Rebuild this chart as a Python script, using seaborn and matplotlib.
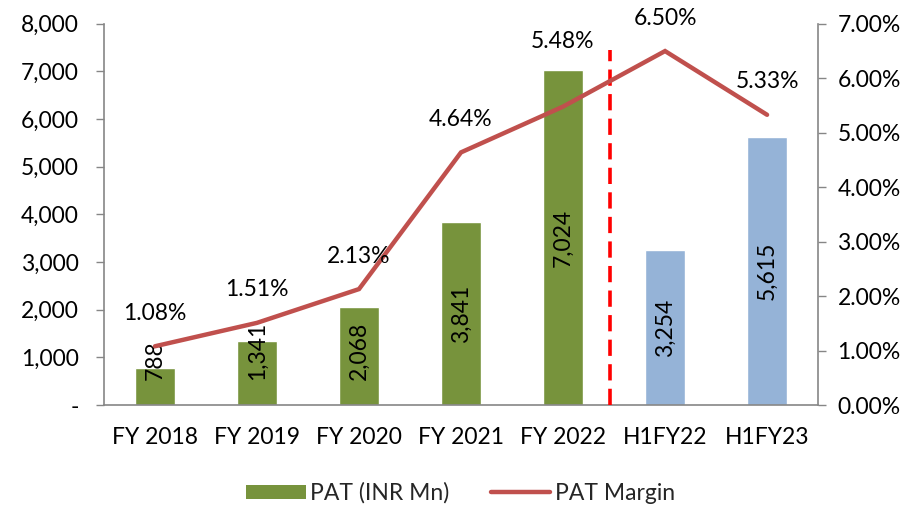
import numpy as np
import pandas as pd
import matplotlib
matplotlib.use("Agg")
import matplotlib.pyplot as plt
import seaborn as sns
from matplotlib.ticker import FuncFormatter, FixedLocator
from matplotlib.lines import Line2D
from matplotlib.patches import Patch

categories = ["FY 2018", "FY 2019", "FY 2020", "FY 2021", "FY 2022", "H1FY22", "H1FY23"]
pat_values = [788, 1341, 2068, 3841, 7024, 3254, 5615]
pat_labels = ["788", "1,341", "2,068", "3,841", "7,024", "3,254", "5,615"]
margin_values = [1.08, 1.51, 2.13, 4.64, 5.48, 6.50, 5.33]
margin_labels = ["1.08%", "1.51%", "2.13%", "4.64%", "5.48%", "6.50%", "5.33%"]
period_type = ["FY", "FY", "FY", "FY", "FY", "H1", "H1"]

GREEN = "#77933C"
BLUE = "#95B3D7"
RED_LINE = "#C0504D"
SPINE = "#868686"

sns.set_theme(style="white")
plt.rcParams["font.family"] = ["Lato", "DejaVu Sans"]
FS = 16.5

df = pd.DataFrame({"cat": categories, "pat": pat_values, "type": period_type})

fig = plt.figure(figsize=(9.12, 5.07), dpi=100)
ax = fig.add_axes([0.114, 0.201, 0.783, 0.752])

sns.barplot(data=df, x="cat", y="pat", hue="type", palette={"FY": GREEN, "H1": BLUE},
            dodge=False, width=0.4, ax=ax, legend=False, saturation=1)
ax.set_xlim(-0.5, len(categories) - 0.5)
ax.set_ylim(0, 8000)
ax.set_yticks(np.arange(0, 8001, 1000))
ax.yaxis.set_major_formatter(FuncFormatter(lambda v, p: "-" if v == 0 else f"{int(v):,}"))
ax.set_xlabel("")
ax.set_ylabel("")
ax.xaxis.set_major_locator(FixedLocator(np.arange(len(categories))))
ax.set_xticklabels(categories)
ax.tick_params(axis="x", which="major", length=0, pad=16, labelsize=FS, labelcolor="black")
ax.set_xticks(np.arange(-0.5, len(categories), 1.0), minor=True)
ax.tick_params(axis="x", which="minor", length=6, width=1, color=SPINE, direction="out")
ax.tick_params(axis="y", length=6, width=1, color=SPINE, direction="out", labelsize=FS,
               labelcolor="black", pad=12)
for s in ["top", "right"]:
    ax.spines[s].set_visible(False)
for s in ["left", "bottom"]:
    ax.spines[s].set_color(SPINE)
    ax.spines[s].set_linewidth(1.2)

ax2 = ax.twinx()
xpos = np.arange(len(categories))
sns.lineplot(x=xpos, y=margin_values, ax=ax2, color=RED_LINE, linewidth=3.2, legend=False,
             solid_capstyle="round", solid_joinstyle="miter")
ax2.set_ylim(0, 7)
ax2.set_xlim(-0.5, len(categories) - 0.5)
ax2.set_yticks(np.arange(0, 7.01, 1))
ax2.yaxis.set_major_formatter(FuncFormatter(lambda v, p: f"{v:.2f}%"))
ax2.tick_params(axis="y", length=6, width=1, color=SPINE, direction="out", labelsize=FS,
                labelcolor="black", pad=8)
for s in ["top", "left", "bottom"]:
    ax2.spines[s].set_visible(False)
ax2.spines["right"].set_color(SPINE)
ax2.spines["right"].set_linewidth(1.2)
ax2.set_ylabel("")

# red dashed separator
ax.plot([4.46, 4.46], [0, 7450], color="#FF0000", linewidth=2.6, linestyle=(0, (4.5, 2.3)), zorder=5)

# percent labels
offsets = [33, 33, 33, 33, 65, 33, 33]
for i, (v, lab) in enumerate(zip(margin_values, margin_labels)):
    ax2.annotate(lab, (i, v), xytext=(0, offsets[i]), textcoords="offset pixels",
                 ha="center", va="center", fontsize=FS, color="black")

# bar value labels (centered, but kept off the baseline when too tall)
fig.canvas.draw()
renderer = fig.canvas.get_renderer()
for i, (v, lab) in enumerate(zip(pat_values, pat_labels)):
    t = ax.text(i, v / 2, lab, rotation=90, ha="center", va="center", fontsize=FS, color="black", zorder=6)
    bb = t.get_window_extent(renderer)
    base_px = ax.transData.transform((i, 0))[1]
    if bb.y0 - base_px < 25:
        t.remove()
        ax.annotate(lab, (i, 0), xytext=(0, 25), textcoords="offset pixels", rotation=90,
                    ha="center", va="bottom", fontsize=FS, color="black", zorder=6)

handles = [Patch(facecolor=GREEN, edgecolor="none"),
           Line2D([0], [0], color=RED_LINE, linewidth=3.2)]
fig.legend(handles, ["PAT (INR Mn)", "PAT Margin"], loc="center", bbox_to_anchor=(0.505, 0.027),
           ncol=2, frameon=False, fontsize=FS, handlelength=2.6, handleheight=0.6,
           handletextpad=0.2, columnspacing=1.8)

fig.savefig("out.png", dpi=100)
